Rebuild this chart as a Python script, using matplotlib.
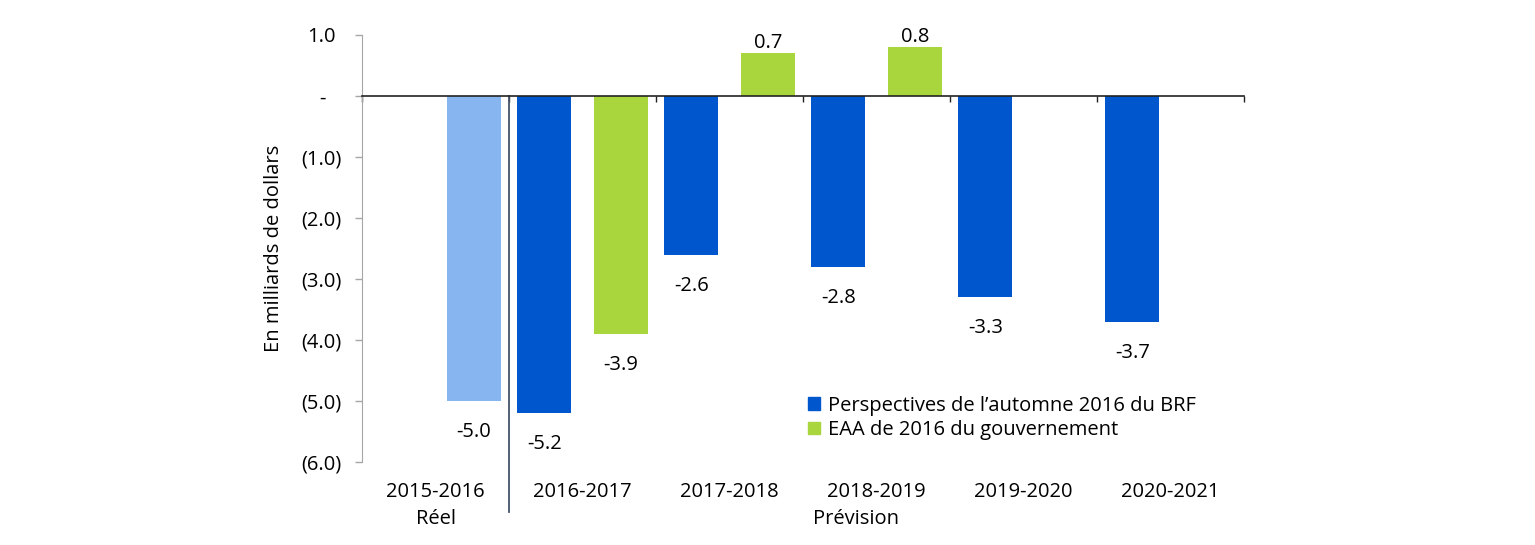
import numpy as np
import matplotlib.pyplot as plt
from matplotlib.patches import Patch
from matplotlib.transforms import ScaledTranslation

# Données (milliards de dollars)
annees = ['2015-2016', '2016-2017', '2017-2018', '2018-2019', '2019-2020', '2020-2021']
reel = [-5.0, np.nan, np.nan, np.nan, np.nan, np.nan]
brf = [np.nan, -5.2, -2.6, -2.8, -3.3, -3.7]
gouv = [np.nan, -3.9, 0.7, 0.8, np.nan, np.nan]
yticks = [1, 0, -1, -2, -3, -4, -5, -6]
ytick_labels = ['1.0', '-', '(1.0)', '(2.0)', '(3.0)', '(4.0)', '(5.0)', '(6.0)']

bleu = '#0056CC'
bleu_clair = '#86B5F0'
vert = '#A8D63C'

plt.rcParams['font.family'] = ['Open Sans', 'DejaVu Sans']
fs = 14.5

fig = plt.figure(figsize=(15.35, 5.45), dpi=100, facecolor='white')
ax = fig.add_axes([362 / 1535, 1 - 462 / 545, 882 / 1535, 427 / 545])

x = np.arange(len(annees))
w = 0.367
off = 0.26

ax.bar(x - off, brf, w, color=bleu, zorder=2)
ax.bar(x + off, gouv, w, color=vert, zorder=2)
ax.bar(x + off, reel, w, color=bleu_clair, zorder=2)

# étiquettes de valeurs
for serie, dx in [(brf, -off), (gouv, off), (reel, off)]:
    for xi, v in zip(x, serie):
        if np.isnan(v):
            continue
        dy = 4 if v > 0 else -26
        ax.annotate(f'{v:.1f}', (xi + dx, v), xytext=(0, dy), textcoords='offset points',
                    ha='center', va='baseline', fontsize=fs, color='black')

ax.set_xlim(-0.5, len(annees) - 0.5)
ax.set_ylim(-6, 1)

# axe des x à zéro
ax.spines['top'].set_visible(False)
ax.spines['right'].set_visible(False)
ax.spines['bottom'].set_position(('data', 0))
ax.spines['bottom'].set_color('#222222')
ax.spines['bottom'].set_linewidth(1.2)
ax.spines['bottom'].set_zorder(3)
ax.spines['left'].set_color('#A6A6A6')
ax.set_xticks(np.arange(-0.5, len(annees), 1))
ax.set_xticklabels([])
ax.tick_params(axis='x', direction='out', length=4.5, width=1, color='#222222')

ax.set_yticks(yticks)
ax.set_yticklabels(ytick_labels)
ax.tick_params(axis='y', direction='out', length=5, width=1, color='#A6A6A6',
               labelsize=fs, pad=10)
# alignement façon format comptable
decal = {'1.0': -5, '-': -16}
for lab in ax.get_yticklabels():
    if lab.get_text() in decal:
        lab.set_transform(lab.get_transform() +
                          ScaledTranslation(decal[lab.get_text()] / 100, 0, fig.dpi_scale_trans))

ax.set_ylabel('En milliards de dollars', fontsize=fs)
ax.yaxis.set_label_coords(-0.088, 0.5)

# libellés des catégories
for xi, a in zip(x, annees):
    ax.text(xi, -6.49, a, ha='center', va='center', fontsize=fs, clip_on=False)
ax.text(0, -6.93, 'Réel', ha='center', va='center', fontsize=fs, clip_on=False)
ax.text(2.86, -6.93, 'Prévision', ha='center', va='center', fontsize=fs, clip_on=False)

# séparateur réel / prévision
ax.plot([0.5, 0.5], [0, -6.82], color='#44546A', lw=1.3, clip_on=False, zorder=3)

# légende
handles = [Patch(color=bleu, label='Perspectives de l’automne 2016 du BRF'),
           Patch(color=vert, label='EAA de 2016 du gouvernement')]
fig.legend(handles=handles, loc='center left', bbox_to_anchor=(808 / 1535, 1 - 418 / 545),
           frameon=False, fontsize=fs, handlelength=0.6, handleheight=0.6,
           handletextpad=0.4, labelspacing=0.2, borderpad=0, borderaxespad=0)

plt.savefig('out.png', dpi=100)
